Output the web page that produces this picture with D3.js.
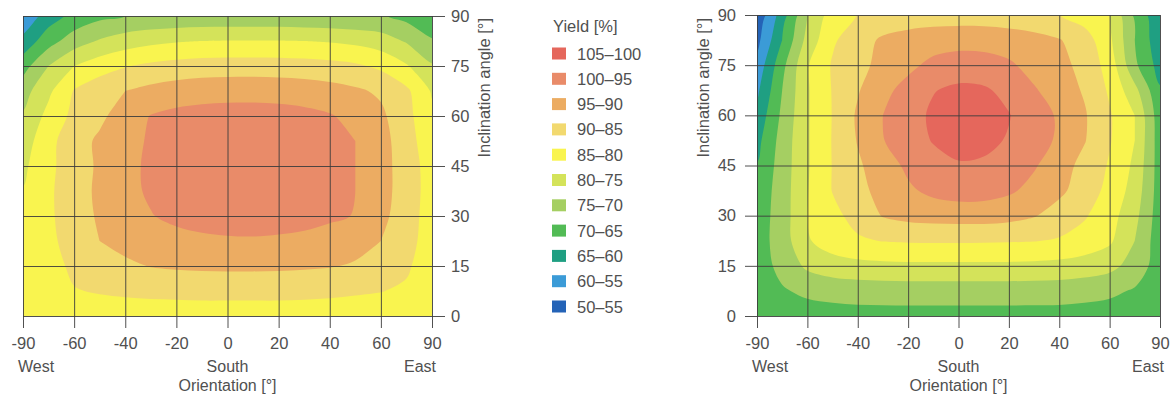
<!DOCTYPE html>
<html>
<head>
<meta charset="utf-8">
<script src="https://cdn.jsdelivr.net/npm/d3@7"></script>
<style>
  body { margin: 0; background: #fff; }
  text { font-family: "Liberation Sans", Arial, sans-serif; fill: #505050; }
</style>
</head>
<body>
<svg id="chart" width="1170" height="394"></svg>
<script>
// axis ticks (orientation axis is not linear: ticks are evenly spaced)
const orientTicks = [-90, -60, -40, -20, 0, 20, 40, 60, 90]
const inclTicks = [0, 15, 30, 45, 60, 75, 90]

// sample positions of the value grids (half steps between ticks)
const sampleOrient = [-90, -75, -60, -50, -40, -30, -20, -10, 0, 10, 20, 30, 40, 50, 60, 75, 90]
const sampleIncl = [90, 82.5, 75, 67.5, 60, 52.5, 45, 37.5, 30, 22.5, 15, 7.5, 0]

// legend
const bandLabels = ['105–100', '100–95', '95–90', '90–85', '85–80', '80–75', '75–70', '70–65', '65–60', '60–55', '50–55']
const bandFloor = [100, 95, 90, 85, 80, 75, 70, 65, 60, 55, 50]
const bandColors = ['#e5675c', '#e98b69', '#ecac62', '#f2d96f', '#f9f44f', '#d4e35a', '#a5cf62', '#52bb55', '#1f9f82', '#3b9bd7', '#2463b7']

// yield [%], rows from 90° down to 0°, columns west -> east
const leftYield = [
  [56, 62.5, 66.5, 68.8, 70, 70.5, 70.8, 71, 71, 71, 71, 70.8, 70.6, 70.3, 70.5, 68.5, 66],
  [61.5, 68, 72.5, 75.5, 77.5, 78.8, 79.6, 80, 80.2, 80.2, 80.2, 80, 79.6, 78.8, 77.3, 74.5, 70.5],
  [68, 75, 80, 82.8, 84.7, 86, 86.8, 87.3, 87.5, 87.5, 87.4, 87.1, 86.6, 85.8, 84, 80.5, 75.5],
  [73, 79, 85.3, 88, 90, 91.4, 92.4, 93, 93.2, 93.3, 93.1, 92.7, 91.9, 90.8, 89.2, 86, 79.5],
  [75.5, 81.5, 86.3, 89, 92.3, 95.2, 96.3, 96.8, 97, 97, 96.8, 96.3, 95.4, 93.5, 91, 86.5, 81],
  [77.5, 83.5, 88, 90.8, 93.3, 95.6, 97.1, 97.9, 98.3, 98.4, 98.2, 97.6, 96.6, 95, 92, 87, 82],
  [79, 83.8, 87.8, 90.7, 93.6, 95.9, 97.4, 98.3, 98.8, 98.9, 98.6, 98, 96.8, 95, 92, 87.5, 82.8],
  [80.2, 84.2, 87.8, 91, 93.8, 95.6, 97, 97.9, 98.3, 98.4, 98.1, 97.5, 96.4, 95, 92, 87.5, 83],
  [81, 84.2, 87.5, 90.7, 93, 94.8, 96, 96.8, 97.2, 97.3, 97, 96.6, 95.8, 94.8, 91.5, 87, 83],
  [81.5, 84, 86.8, 90, 91.7, 92.8, 93.6, 94.1, 94.4, 94.5, 94.3, 93.9, 93, 91.8, 90, 86.5, 83],
  [82, 83.5, 85.8, 87.5, 89, 90.2, 90.7, 91, 91.1, 91.1, 91, 90.7, 90.3, 89.5, 87.5, 85.5, 83],
  [82, 83, 84.8, 85.3, 85.6, 85.8, 85.9, 86, 86, 86, 86, 85.9, 85.7, 85.4, 85.1, 84.5, 83],
  [82, 82.4, 82.8, 83, 83.2, 83.3, 83.3, 83.4, 83.4, 83.4, 83.4, 83.3, 83.3, 83.2, 83, 82.9, 82.8]
]

const rightYield = [
  [51, 62.5, 74.8, 82.5, 85.1, 86.5, 87.2, 87.6, 87.7, 87.6, 87.2, 86.5, 85.1, 82.5, 80, 69, 61],
  [53.5, 65, 76.7, 84.3, 87.8, 90.8, 92, 92.7, 93, 92.9, 92.4, 91.6, 90.3, 87.5, 81, 70, 61.5],
  [56.5, 68.5, 79.6, 85.5, 88.8, 91.2, 93.8, 96.3, 97.6, 97.3, 95.8, 93.2, 91.5, 88.5, 83, 71, 63],
  [59, 70, 79.5, 85.3, 89.6, 93.7, 96.7, 99.8, 100.9, 100.6, 98.8, 95.5, 92.5, 89.5, 84.3, 76.5, 65.5],
  [61.5, 71, 79.5, 85.2, 90.7, 95, 98.3, 100.7, 101.8, 101.4, 100.2, 97.5, 94.3, 90.5, 85.5, 80, 67],
  [63.5, 72, 79.5, 85.3, 90.3, 94.8, 97.8, 100.3, 101.2, 100.9, 99.7, 97.2, 94.2, 90.3, 85.4, 80, 67.3],
  [65.2, 72.3, 79.5, 85.2, 89.3, 92.6, 96, 98.3, 99.7, 99.5, 97.8, 95.5, 92.2, 88.5, 84.5, 79, 67.5],
  [66.5, 72.5, 79.8, 85.2, 88.6, 91.6, 94.2, 96.2, 97.2, 97, 95.8, 93.5, 91, 87.8, 83.5, 78, 67.5],
  [67.2, 72.5, 80, 83.6, 86.8, 90.3, 91.5, 92, 92.2, 92.2, 91.6, 90.3, 88, 85.5, 82, 76.5, 67.3],
  [67.5, 72.5, 79.5, 82.5, 84.3, 85.2, 85.5, 85.6, 85.6, 85.5, 85.4, 85.2, 84.5, 83, 80.8, 75, 67],
  [67.5, 71.5, 76, 77.8, 78.5, 78.8, 79, 79, 79, 79, 79, 78.8, 78.5, 77.8, 76.5, 73, 67.5],
  [67, 69.5, 71, 71.8, 72.2, 72.4, 72.5, 72.5, 72.5, 72.5, 72.5, 72.4, 72.3, 71.8, 71, 69.5, 67],
  [66.5, 67.3, 67.8, 68, 68.2, 68.2, 68.2, 68.2, 68.2, 68.2, 68.2, 68.2, 68.2, 68, 67.8, 67.3, 66.5]
]

const svg = d3.select('#chart')
const nx = sampleOrient.length
const ny = sampleIncl.length

const drawPanel = (id, values, box, side) => {
  const xScale = d3.scaleLinear()
    .domain(orientTicks)
    .range(orientTicks.map((d, i) => box.x0 + i * (box.x1 - box.x0) / (orientTicks.length - 1)))
  const yScale = d3.scaleLinear().domain([0, 90]).range([box.y1, box.y0])

  // grid index -> data value
  const ixOrient = d3.scaleLinear().domain(d3.range(nx)).range(sampleOrient)
  const iyIncl = d3.scaleLinear().domain(d3.range(ny)).range(sampleIncl)

  const g = svg.append('g')

  g.append('clipPath').attr('id', 'clip-' + id)
    .append('rect')
    .attr('x', box.x0).attr('y', box.y0)
    .attr('width', box.x1 - box.x0).attr('height', box.y1 - box.y0)

  const contours = d3.contours()
    .size([nx, ny])
    .thresholds(bandFloor.slice().reverse())(values.flat())

  const ring = d3.line()
    .x(p => xScale(ixOrient(p[0] - 0.5)))
    .y(p => yScale(iyIncl(p[1] - 0.5)))
    .curve(d3.curveCatmullRomClosed.alpha(0.5))

  g.append('g')
    .attr('clip-path', 'url(#clip-' + id + ')')
    .selectAll('path')
    .data(contours)
    .join('path')
    .attr('d', c => c.coordinates.map(poly => poly.map(r => ring(r.slice(0, -1))).join('')).join(''))
    .attr('fill', c => bandColors[bandFloor.indexOf(c.value)])
    .attr('fill-rule', 'evenodd')

  // bottom axis with grid lines
  const xAxis = g.append('g')
    .attr('transform', 'translate(0,' + (box.y1 + 12) + ')')
    .call(d3.axisBottom(xScale)
      .tickValues(orientTicks)
      .tickFormat(d => String(d))
      .tickSize(-(box.y1 - box.y0 + 12))
      .tickPadding(9))
  xAxis.select('.domain').remove()
  xAxis.selectAll('line').attr('stroke', '#3c3c3c').attr('stroke-width', 0.9)
  xAxis.selectAll('text').attr('font-size', 16.5).attr('fill', '#505050')

  // inclination axis with grid lines
  let yAxis
  if (side === 'right') {
    yAxis = g.append('g')
      .attr('transform', 'translate(' + (box.x1 + 13) + ',0)')
      .call(d3.axisRight(yScale).tickValues(inclTicks).tickSize(-(box.x1 - box.x0 + 13)).tickPadding(6))
  } else {
    yAxis = g.append('g')
      .attr('transform', 'translate(' + (box.x0 - 12) + ',0)')
      .call(d3.axisLeft(yScale).tickValues(inclTicks).tickSize(-(box.x1 - box.x0 + 12)).tickPadding(9))
  }
  yAxis.select('.domain').remove()
  yAxis.selectAll('line').attr('stroke', '#3c3c3c').attr('stroke-width', 0.9)
  yAxis.selectAll('text').attr('font-size', 16.5).attr('fill', '#505050')

  // direction words and axis titles
  const cx = xScale(0)
  g.append('text').attr('x', box.x0 - 5).attr('y', box.y1 + 56).attr('font-size', 16).text('West')
  g.append('text').attr('x', cx).attr('y', box.y1 + 56).attr('font-size', 16).attr('text-anchor', 'middle').text('South')
  g.append('text').attr('x', box.x1 + 4).attr('y', box.y1 + 56).attr('font-size', 16).attr('text-anchor', 'end').text('East')
  g.append('text').attr('x', cx).attr('y', box.y1 + 75).attr('font-size', 16).attr('text-anchor', 'middle').text('Orientation [°]')

  g.append('text')
    .attr('transform', 'translate(' + box.titleX + ',' + 18 + ') rotate(-90)')
    .attr('text-anchor', 'end')
    .attr('font-size', 16.5)
    .text('Inclination angle [°]')
}

drawPanel('left', leftYield, { x0: 23, x1: 432, y0: 16, y1: 316, titleX: 490 }, 'right')
drawPanel('right', rightYield, { x0: 757, x1: 1160, y0: 15, y1: 316, titleX: 709 }, 'left')

// legend
const legend = svg.append('g').attr('transform', 'translate(552,0)')
legend.append('text').attr('x', 1).attr('y', 32).attr('font-size', 16.5).text('Yield [%]')
const rows = legend.selectAll('g.row')
  .data(bandLabels)
  .join('g')
  .attr('class', 'row')
  .attr('transform', (d, i) => 'translate(0,' + (53.5 + i * 25.3) + ')')
rows.append('rect')
  .attr('x', 0).attr('y', -6)
  .attr('width', 14).attr('height', 12)
  .attr('fill', (d, i) => bandColors[i])
rows.append('text')
  .attr('x', 25).attr('y', 6)
  .attr('font-size', 16.5)
  .text(d => d)
</script>
</body>
</html>
